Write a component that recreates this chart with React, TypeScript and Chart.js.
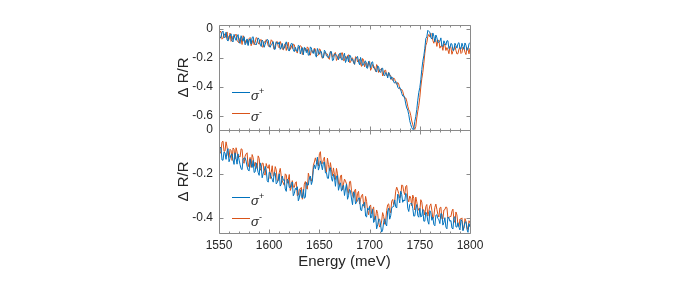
import { useEffect, useRef } from 'react';
import { Chart, registerables } from 'chart.js';

Chart.register(...registerables);

// Photon energy samples (meV): even and odd channels of the scan
const ENERGY_EVEN = [
  1550, 1552, 1554, 1556, 1558, 1560, 1562, 1564, 1566, 1568,
  1570, 1572, 1574, 1576, 1578, 1580, 1582, 1584, 1586, 1588,
  1590, 1592, 1594, 1596, 1598, 1600, 1602, 1604, 1606, 1608,
  1610, 1612, 1614, 1616, 1618, 1620, 1622, 1624, 1626, 1628,
  1630, 1632, 1634, 1636, 1638, 1640, 1642, 1644, 1646, 1648,
  1650, 1652, 1654, 1656, 1658, 1660, 1662, 1664, 1666, 1668,
  1670, 1672, 1674, 1676, 1678, 1680, 1682, 1684, 1686, 1688,
  1690, 1692, 1694, 1696, 1698, 1700, 1702, 1704, 1706, 1708,
  1710, 1712, 1714, 1716, 1718, 1720, 1722, 1724, 1726, 1728,
  1730, 1732, 1734, 1736, 1738, 1740, 1742, 1744, 1746, 1748,
  1750, 1752, 1754, 1756, 1758, 1760, 1762, 1764, 1766, 1768,
  1770, 1772, 1774, 1776, 1778, 1780, 1782, 1784, 1786, 1788,
  1790, 1792, 1794, 1796, 1798, 1800,
];
const ENERGY_ODD = [
  1551, 1553, 1555, 1557, 1559, 1561, 1563, 1565, 1567, 1569,
  1571, 1573, 1575, 1577, 1579, 1581, 1583, 1585, 1587, 1589,
  1591, 1593, 1595, 1597, 1599, 1601, 1603, 1605, 1607, 1609,
  1611, 1613, 1615, 1617, 1619, 1621, 1623, 1625, 1627, 1629,
  1631, 1633, 1635, 1637, 1639, 1641, 1643, 1645, 1647, 1649,
  1651, 1653, 1655, 1657, 1659, 1661, 1663, 1665, 1667, 1669,
  1671, 1673, 1675, 1677, 1679, 1681, 1683, 1685, 1687, 1689,
  1691, 1693, 1695, 1697, 1699, 1701, 1703, 1705, 1707, 1709,
  1711, 1713, 1715, 1717, 1719, 1721, 1723, 1725, 1727, 1729,
  1731, 1733, 1735, 1737, 1739, 1741, 1743, 1745, 1747, 1749,
  1751, 1753, 1755, 1757, 1759, 1761, 1763, 1765, 1767, 1769,
  1771, 1773, 1775, 1777, 1779, 1781, 1783, 1785, 1787, 1789,
  1791, 1793, 1795, 1797, 1799,
];

// Top panel, sigma+ (blue)
const TOP_PLUS_EVEN = [
  -0.022, -0.056, -0.017, -0.056, -0.076, -0.050, -0.036, -0.092, -0.065, -0.057,
  -0.092, -0.049, -0.087, -0.112, -0.071, -0.079, -0.107, -0.056, -0.105, -0.091,
  -0.074, -0.123, -0.090, -0.108, -0.075, -0.121, -0.110, -0.090, -0.142, -0.103,
  -0.092, -0.128, -0.142, -0.108, -0.122, -0.155, -0.102, -0.147, -0.129, -0.158,
  -0.120, -0.147, -0.181, -0.134, -0.144, -0.181, -0.134, -0.171, -0.180, -0.137,
  -0.177, -0.161, -0.201, -0.159, -0.192, -0.183, -0.159, -0.217, -0.175, -0.197,
  -0.172, -0.215, -0.192, -0.234, -0.191, -0.182, -0.220, -0.235, -0.206, -0.192,
  -0.249, -0.226, -0.250, -0.223, -0.274, -0.242, -0.233, -0.272, -0.289, -0.257,
  -0.297, -0.276, -0.318, -0.303, -0.341, -0.316, -0.333, -0.368, -0.364, -0.404,
  -0.405, -0.448, -0.464, -0.520, -0.562, -0.636, -0.684, -0.695, -0.606, -0.494,
  -0.408, -0.282, -0.188, -0.068, -0.012, -0.025, -0.072, -0.052, -0.044, -0.094,
  -0.087, -0.122, -0.084, -0.114, -0.084, -0.132, -0.107, -0.149, -0.117, -0.103,
  -0.137, -0.101, -0.143, -0.115, -0.144, -0.096,
];
const TOP_PLUS_ODD = [
  -0.067, -0.025, -0.064, -0.025, -0.086, -0.050, -0.085, -0.040, -0.081, -0.041,
  -0.102, -0.071, -0.056, -0.100, -0.117, -0.071, -0.061, -0.098, -0.113, -0.064,
  -0.107, -0.079, -0.129, -0.089, -0.079, -0.129, -0.104, -0.143, -0.091, -0.106,
  -0.143, -0.102, -0.136, -0.091, -0.147, -0.122, -0.104, -0.159, -0.148, -0.115,
  -0.175, -0.131, -0.129, -0.166, -0.184, -0.126, -0.166, -0.141, -0.197, -0.158,
  -0.154, -0.201, -0.149, -0.189, -0.202, -0.160, -0.221, -0.176, -0.186, -0.216,
  -0.169, -0.215, -0.170, -0.214, -0.230, -0.189, -0.211, -0.246, -0.203, -0.231,
  -0.199, -0.254, -0.228, -0.271, -0.226, -0.270, -0.229, -0.275, -0.300, -0.264,
  -0.302, -0.273, -0.326, -0.309, -0.304, -0.350, -0.342, -0.377, -0.373, -0.414,
  -0.420, -0.465, -0.482, -0.548, -0.594, -0.663, -0.696, -0.642, -0.558, -0.440,
  -0.353, -0.225, -0.136, -0.057, -0.020, -0.063, -0.030, -0.092, -0.063, -0.094,
  -0.064, -0.121, -0.100, -0.084, -0.138, -0.102, -0.150, -0.101, -0.135, -0.097,
  -0.142, -0.122, -0.099, -0.149, -0.105,
];

// Top panel, sigma- (orange)
const TOP_MINUS_EVEN = [
  -0.048, -0.020, -0.066, -0.045, -0.023, -0.073, -0.088, -0.051, -0.048, -0.081,
  -0.098, -0.067, -0.049, -0.102, -0.081, -0.068, -0.118, -0.078, -0.096, -0.067,
  -0.108, -0.075, -0.127, -0.094, -0.088, -0.125, -0.077, -0.118, -0.115, -0.089,
  -0.133, -0.106, -0.147, -0.104, -0.122, -0.151, -0.117, -0.107, -0.147, -0.169,
  -0.134, -0.124, -0.164, -0.148, -0.126, -0.182, -0.150, -0.169, -0.142, -0.186,
  -0.139, -0.186, -0.198, -0.164, -0.176, -0.212, -0.166, -0.191, -0.165, -0.207,
  -0.204, -0.168, -0.221, -0.191, -0.187, -0.234, -0.205, -0.230, -0.194, -0.230,
  -0.213, -0.261, -0.214, -0.241, -0.266, -0.225, -0.271, -0.256, -0.296, -0.262,
  -0.290, -0.274, -0.317, -0.287, -0.331, -0.323, -0.350, -0.340, -0.373, -0.372,
  -0.414, -0.420, -0.461, -0.478, -0.536, -0.572, -0.638, -0.686, -0.675, -0.570,
  -0.476, -0.346, -0.240, -0.116, -0.055, -0.057, -0.040, -0.101, -0.081, -0.083,
  -0.135, -0.118, -0.103, -0.151, -0.147, -0.123, -0.177, -0.137, -0.151, -0.173,
  -0.129, -0.165, -0.135, -0.179, -0.142, -0.134,
];
const TOP_MINUS_ODD = [
  -0.020, -0.073, -0.035, -0.062, -0.080, -0.031, -0.079, -0.059, -0.038, -0.092,
  -0.063, -0.110, -0.062, -0.079, -0.110, -0.061, -0.099, -0.112, -0.062, -0.099,
  -0.079, -0.127, -0.091, -0.076, -0.119, -0.108, -0.085, -0.142, -0.094, -0.123,
  -0.089, -0.141, -0.117, -0.151, -0.094, -0.143, -0.138, -0.111, -0.157, -0.130,
  -0.117, -0.179, -0.134, -0.156, -0.135, -0.183, -0.153, -0.134, -0.184, -0.182,
  -0.147, -0.205, -0.165, -0.176, -0.206, -0.156, -0.197, -0.170, -0.220, -0.179,
  -0.203, -0.167, -0.219, -0.207, -0.180, -0.233, -0.202, -0.247, -0.198, -0.218,
  -0.245, -0.206, -0.264, -0.235, -0.231, -0.288, -0.248, -0.271, -0.248, -0.303,
  -0.280, -0.327, -0.289, -0.325, -0.302, -0.324, -0.358, -0.350, -0.385, -0.382,
  -0.425, -0.434, -0.482, -0.500, -0.561, -0.599, -0.664, -0.696, -0.617, -0.531,
  -0.403, -0.302, -0.171, -0.096, -0.040, -0.032, -0.082, -0.072, -0.123, -0.080,
  -0.120, -0.150, -0.114, -0.131, -0.173, -0.131, -0.156, -0.122, -0.175, -0.142,
  -0.172, -0.127, -0.163, -0.131, -0.174,
];

// Bottom panel, sigma+ (blue)
const BOTTOM_PLUS_EVEN = [
  -0.114, -0.082, -0.138, -0.105, -0.097, -0.145, -0.112, -0.136, -0.104, -0.156,
  -0.137, -0.177, -0.132, -0.127, -0.167, -0.187, -0.156, -0.139, -0.191, -0.173,
  -0.207, -0.168, -0.199, -0.166, -0.231, -0.193, -0.214, -0.238, -0.197, -0.240,
  -0.200, -0.247, -0.229, -0.269, -0.224, -0.262, -0.244, -0.300, -0.266, -0.259,
  -0.310, -0.303, -0.271, -0.306, -0.252, -0.218, -0.249, -0.180, -0.177, -0.124,
  -0.168, -0.159, -0.149, -0.196, -0.220, -0.175, -0.220, -0.202, -0.257, -0.208,
  -0.255, -0.279, -0.252, -0.269, -0.316, -0.271, -0.315, -0.282, -0.338, -0.325,
  -0.310, -0.369, -0.345, -0.393, -0.357, -0.349, -0.399, -0.422, -0.393, -0.433,
  -0.407, -0.466, -0.421, -0.429, -0.370, -0.407, -0.356, -0.349, -0.351, -0.293,
  -0.333, -0.294, -0.319, -0.289, -0.357, -0.340, -0.335, -0.393, -0.360, -0.391,
  -0.357, -0.393, -0.416, -0.375, -0.416, -0.368, -0.412, -0.431, -0.389, -0.403,
  -0.427, -0.384, -0.422, -0.443, -0.397, -0.417, -0.447, -0.399, -0.442, -0.423,
  -0.456, -0.416, -0.442, -0.418, -0.467, -0.443,
];
const BOTTOM_PLUS_ODD = [
  -0.078, -0.137, -0.100, -0.134, -0.085, -0.130, -0.109, -0.157, -0.129, -0.109,
  -0.158, -0.181, -0.129, -0.142, -0.183, -0.132, -0.171, -0.194, -0.150, -0.194,
  -0.150, -0.218, -0.187, -0.182, -0.238, -0.195, -0.225, -0.193, -0.246, -0.227,
  -0.256, -0.210, -0.227, -0.280, -0.231, -0.263, -0.237, -0.290, -0.273, -0.323,
  -0.273, -0.310, -0.312, -0.239, -0.251, -0.210, -0.233, -0.159, -0.156, -0.183,
  -0.141, -0.182, -0.146, -0.194, -0.221, -0.172, -0.234, -0.218, -0.211, -0.275,
  -0.241, -0.262, -0.299, -0.246, -0.300, -0.279, -0.341, -0.289, -0.328, -0.311,
  -0.364, -0.340, -0.330, -0.397, -0.364, -0.401, -0.362, -0.414, -0.451, -0.407,
  -0.435, -0.457, -0.405, -0.438, -0.357, -0.392, -0.350, -0.319, -0.356, -0.304,
  -0.279, -0.330, -0.324, -0.300, -0.372, -0.335, -0.357, -0.392, -0.340, -0.398,
  -0.397, -0.363, -0.416, -0.385, -0.430, -0.378, -0.398, -0.437, -0.387, -0.410,
  -0.381, -0.434, -0.400, -0.451, -0.401, -0.413, -0.452, -0.396, -0.443, -0.444,
  -0.409, -0.460, -0.422, -0.454, -0.427,
];

// Bottom panel, sigma- (orange)
const BOTTOM_MINUS_EVEN = [
  -0.050, -0.097, -0.051, -0.096, -0.077, -0.125, -0.093, -0.082, -0.133, -0.100,
  -0.119, -0.086, -0.143, -0.119, -0.104, -0.150, -0.171, -0.126, -0.147, -0.176,
  -0.129, -0.175, -0.152, -0.206, -0.168, -0.158, -0.194, -0.211, -0.167, -0.231,
  -0.195, -0.210, -0.242, -0.200, -0.243, -0.203, -0.263, -0.260, -0.242, -0.300,
  -0.270, -0.262, -0.294, -0.235, -0.270, -0.217, -0.233, -0.161, -0.127, -0.148,
  -0.108, -0.156, -0.135, -0.179, -0.128, -0.185, -0.181, -0.173, -0.226, -0.200,
  -0.254, -0.205, -0.247, -0.233, -0.275, -0.236, -0.277, -0.308, -0.270, -0.289,
  -0.338, -0.299, -0.339, -0.303, -0.368, -0.349, -0.382, -0.351, -0.400, -0.381,
  -0.443, -0.415, -0.394, -0.412, -0.341, -0.367, -0.325, -0.340, -0.279, -0.274,
  -0.310, -0.251, -0.281, -0.257, -0.315, -0.301, -0.346, -0.312, -0.306, -0.354,
  -0.371, -0.329, -0.365, -0.349, -0.393, -0.346, -0.366, -0.393, -0.338, -0.385,
  -0.355, -0.405, -0.365, -0.351, -0.402, -0.394, -0.370, -0.410, -0.374, -0.434,
  -0.406, -0.401, -0.447, -0.417, -0.455, -0.424,
];
const BOTTOM_MINUS_ODD = [
  -0.107, -0.055, -0.097, -0.054, -0.115, -0.088, -0.139, -0.088, -0.081, -0.128,
  -0.123, -0.088, -0.152, -0.109, -0.168, -0.125, -0.112, -0.166, -0.159, -0.118,
  -0.184, -0.151, -0.201, -0.153, -0.175, -0.222, -0.163, -0.206, -0.182, -0.231,
  -0.175, -0.233, -0.252, -0.205, -0.227, -0.276, -0.231, -0.262, -0.236, -0.297,
  -0.270, -0.316, -0.247, -0.264, -0.197, -0.229, -0.216, -0.146, -0.144, -0.164,
  -0.099, -0.153, -0.124, -0.193, -0.157, -0.149, -0.209, -0.204, -0.175, -0.242,
  -0.210, -0.273, -0.224, -0.246, -0.289, -0.234, -0.295, -0.276, -0.327, -0.280,
  -0.316, -0.293, -0.355, -0.326, -0.387, -0.342, -0.364, -0.411, -0.365, -0.422,
  -0.437, -0.377, -0.430, -0.368, -0.337, -0.378, -0.317, -0.325, -0.261, -0.290,
  -0.302, -0.253, -0.295, -0.253, -0.328, -0.311, -0.297, -0.365, -0.328, -0.366,
  -0.318, -0.366, -0.388, -0.340, -0.371, -0.337, -0.405, -0.353, -0.362, -0.397,
  -0.352, -0.406, -0.363, -0.354, -0.401, -0.395, -0.361, -0.422, -0.388, -0.440,
  -0.406, -0.456, -0.404, -0.443, -0.414,
];

const X_TICKS = [1550, 1600, 1650, 1700, 1750, 1800];
const X_MINOR_TICKS = [
  1560, 1570, 1580, 1590, 1610, 1620, 1630, 1640, 1660, 1670, 1680, 1690,
  1710, 1720, 1730, 1740, 1760, 1770, 1780, 1790,
];
const TOP_Y_TICKS = [0, -0.2, -0.4, -0.6];
const BOTTOM_Y_TICKS = [0, -0.2, -0.4];
const SERIES_NAMES = ['+', '-'];

const BLUE = '#0072BD';
const ORANGE = '#D95319';
const AXIS_COLOR = '#8a8a8a';
const TEXT_COLOR = '#262626';
const FONT = "'Liberation Sans', Arial, sans-serif";

const framePlugin = {
  id: 'frame',
  afterDatasetsDraw(chart: any) {
    const ctx = chart.ctx;
    const xs = chart.scales.x;
    const px = (v: number) => Math.round(v) + 0.5;
    const L = px(xs.left);
    const R = px(xs.right);
    ctx.save();
    ctx.strokeStyle = AXIS_COLOR;
    ctx.lineWidth = 1;
    for (const id of ['yTop', 'yBot']) {
      const ys = chart.scales[id];
      const T = px(ys.top);
      const B = px(ys.bottom);
      ctx.beginPath();
      ctx.rect(L, T, R - L, B - T);
      const drawX = (v: number, len: number) => {
        const x = px(xs.getPixelForValue(v));
        ctx.moveTo(x, T);
        ctx.lineTo(x, T + len);
        ctx.moveTo(x, B);
        ctx.lineTo(x, B - len);
      };
      X_TICKS.forEach((v) => drawX(v, 4));
      X_MINOR_TICKS.forEach((v) => drawX(v, 2));
      ys.ticks.forEach((t: any) => {
        const y = px(ys.getPixelForValue(t.value));
        ctx.moveTo(L, y);
        ctx.lineTo(L + 4, y);
        ctx.moveTo(R, y);
        ctx.lineTo(R - 4, y);
      });
      ctx.stroke();
    }
    ctx.restore();
  },
};

const legendPlugin = {
  id: 'panelLegend',
  afterDraw(chart: any) {
    const ctx = chart.ctx;
    const xs = chart.scales.x;
    const panels = [
      { id: 'yTop', sets: [0, 1] },
      { id: 'yBot', sets: [2, 3] },
    ];
    ctx.save();
    panels.forEach((p) => {
      const ys = chart.scales[p.id];
      p.sets.forEach((di, k) => {
        const ds = chart.data.datasets[di];
        const y = Math.round(ys.top + (k === 0 ? 67 : 88)) + 0.5;
        const x0 = xs.left + 13;
        ctx.strokeStyle = ds.borderColor;
        ctx.lineWidth = 1;
        ctx.beginPath();
        ctx.moveTo(x0, y);
        ctx.lineTo(x0 + 18, y);
        ctx.stroke();
        ctx.fillStyle = TEXT_COLOR;
        ctx.textAlign = 'left';
        ctx.textBaseline = 'alphabetic';
        ctx.font = `italic 13px ${FONT}`;
        ctx.fillText('σ', x0 + 19, y + 7);
        ctx.font = `9px ${FONT}`;
        ctx.fillText(SERIES_NAMES[k], x0 + 27, y + 1);
      });
    });
    ctx.restore();
  },
};

export default function App() {
  const ref = useRef<HTMLCanvasElement>(null);
  useEffect(() => {
    const toPts = (even: number[], odd: number[]) =>
      [
        ...ENERGY_EVEN.map((x, i) => ({ x, y: even[i] })),
        ...ENERGY_ODD.map((x, i) => ({ x, y: odd[i] })),
      ].sort((a, b) => a.x - b.x);
    const line = (label: string, even: number[], odd: number[], color: string, axis: string) => ({
      label,
      data: toPts(even, odd),
      yAxisID: axis,
      borderColor: color,
      backgroundColor: color,
      borderWidth: 1,
      pointRadius: 0,
      tension: 0,
      fill: false,
    });
    const yScale = (ticks: number[], min: number, max: number, weight: number, stackWeight: number) => ({
      type: 'linear',
      position: 'left',
      stack: 'panels',
      stackWeight,
      weight,
      min,
      max,
      afterBuildTicks: (s: any) => {
        s.ticks = ticks.map((value) => ({ value }));
      },
      afterFit: (s: any) => {
        s.width = 44;
      },
      grid: { display: false, drawTicks: false },
      border: { display: false },
      ticks: {
        padding: 6,
        color: TEXT_COLOR,
        font: { family: FONT, size: 12 },
        callback: (v: any) => (Number(v) === 0 ? '0' : Number(v).toFixed(1)),
      },
      title: {
        display: true,
        text: 'Δ R/R',
        color: TEXT_COLOR,
        font: { family: FONT, size: 15 },
        padding: { top: 0, bottom: 0 },
      },
    });
    const chart = new Chart(ref.current as HTMLCanvasElement, {
      type: 'line',
      data: {
        datasets: [
          line('σ+', TOP_PLUS_EVEN, TOP_PLUS_ODD, BLUE, 'yTop'),
          line('σ-', TOP_MINUS_EVEN, TOP_MINUS_ODD, ORANGE, 'yTop'),
          line('σ+', BOTTOM_PLUS_EVEN, BOTTOM_PLUS_ODD, BLUE, 'yBot'),
          line('σ-', BOTTOM_MINUS_EVEN, BOTTOM_MINUS_ODD, ORANGE, 'yBot'),
        ],
      },
      options: {
        responsive: false,
        animation: false,
        devicePixelRatio: 1,
        layout: { padding: { left: 175, right: 205, top: 25, bottom: 10 } },
        plugins: { legend: { display: false }, tooltip: { enabled: false } },
        scales: {
          x: {
            type: 'linear',
            min: 1550,
            max: 1800,
            afterBuildTicks: (s: any) => {
              s.ticks = X_TICKS.map((value) => ({ value }));
            },
            afterFit: (s: any) => {
              s.height = 45;
            },
            grid: { display: false, drawTicks: false },
            border: { display: false },
            ticks: {
              padding: 5,
              color: TEXT_COLOR,
              font: { family: FONT, size: 12 },
              maxRotation: 0,
              callback: (v: any) => String(v),
            },
            title: {
              display: true,
              text: 'Energy (meV)',
              color: TEXT_COLOR,
              font: { family: FONT, size: 15 },
              padding: { top: 0, bottom: 7 },
            },
          },
          yBot: yScale(BOTTOM_Y_TICKS, -0.47, 0, 0, 103),
          yTop: yScale(TOP_Y_TICKS, -0.7, 0.025, 1, 105),
        } as any,
      },
      plugins: [framePlugin, legendPlugin],
    } as any);
    return () => chart.destroy();
  }, []);
  return (
    <div style={{ position: 'fixed', left: 0, top: 0, width: 675, height: 288, background: '#fff' }}>
      <canvas ref={ref} width={675} height={288} style={{ display: 'block', width: 675, height: 288 }} />
    </div>
  );
}
